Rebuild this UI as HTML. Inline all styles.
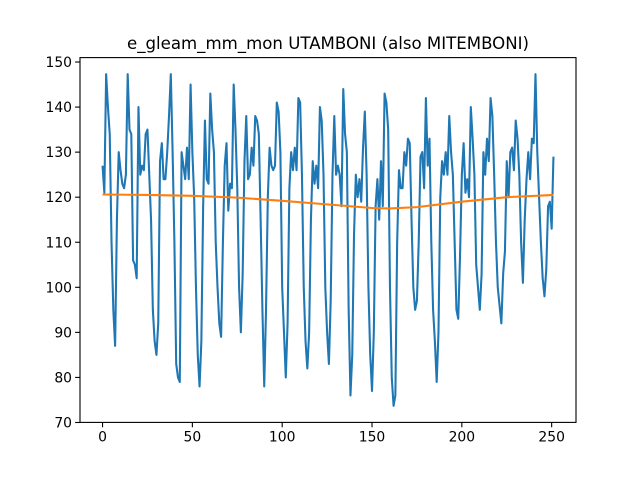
<!DOCTYPE html>
<html><head><meta charset="utf-8"><style>
body{margin:0;background:#fff}
svg{display:block;font-family:"DejaVu Sans","Liberation Sans",sans-serif}
</style></head><body>
<svg id="chart" width="640" height="480" xmlns="http://www.w3.org/2000/svg">
<rect width="640" height="480" fill="#fff"/>
<text x="328" y="49" text-anchor="middle" font-size="16.6" fill="#000">e_gleam_mm_mon UTAMBONI (also MITEMBONI)</text>
<g id="plot"></g>
</svg>
<script>
const seriesValues=[127,121,147.3,140,134,110,95,87,115,130,126,123,122,125,147.3,135,134,106,105,102,
140,125,127,126,134,135,125,115,95,88,85,92,128,132,124,124,130,138,147.3,130,110,83,80,79,
130,127,124,131,124,145,130,120,100,85,78,88,118,137,124,123,143,135,130,110,100,92,89,
110,127,132,117,123,122,145,135,122,100,90,103,128,138,124,125,131,127,138,137,134,115,95,78,
95,120,131,127,126,127,141,139,130,100,90,80,92,122,130,126,131,126,142,141,125,100,88,82,
90,115,128,123,127,122,140,137,125,100,90,83,97,125,138,125,127,125,118,144,134,130,95,76,
85,112,125,120,124,119,131,139,125,100,85,77,90,118,124,115,128,118,143,141,135,100,80,73.7,
76,110,126,122,122,130,127,133,132,115,100,95,97,110,129,130,122,142,127,133,110,95,88,79,
90,120,128,125,130,125,138,130,125,110,95,93,107,125,132,121,124,120,140,133,125,105,100,95,
103,130,125,133,128,142,138,125,110,100,96,92,103,108,128,120,130,131,126,137,133,125,110,101,
115,124,130,124,133,132,147.3,130,120,110,102,98,104,118,119,113,129];
const trendX=[0,25,50,75,100,125,150,160,175,200,225,251];
const trendY=[120.6,120.5,120.3,119.9,119.2,118.4,117.6,117.5,117.8,119.0,120.0,120.5];
const xTicks=[0,50,100,150,200,250];
const yTicks=[70,80,90,100,110,120,130,140,150];

const NS="http://www.w3.org/2000/svg";
const L=80,R=576,T=57.6,B=422.4;
const n=seriesValues.length;
const xmin=-(n-1)*0.05,xmax=(n-1)*1.05;
const dmin=Math.min(...seriesValues),dmax=Math.max(...seriesValues);
const ymin=dmin-(dmax-dmin)*0.05,ymax=dmax+(dmax-dmin)*0.05;
const sx=v=>L+(v-xmin)/(xmax-xmin)*(R-L);
const sy=v=>B-(v-ymin)/(ymax-ymin)*(B-T);
const plot=document.getElementById('plot');
function mk(tag,attrs){const e=document.createElementNS(NS,tag);for(const k in attrs)e.setAttribute(k,attrs[k]);plot.appendChild(e);return e;}

let d=seriesValues.map((v,i)=>(i?'L':'M')+sx(i).toFixed(2)+','+sy(v).toFixed(2)).join('');
const line=mk('path',{d:d,fill:'none',stroke:'#1f77b4','stroke-width':2.08,'stroke-linejoin':'round'});


let d2=trendX.map((x,i)=>(i?'L':'M')+sx(x).toFixed(2)+','+sy(trendY[i]).toFixed(2)).join('');
const tl=mk('path',{d:d2,fill:'none',stroke:'#ff7f0e','stroke-width':2.08});



const frame=mk('rect',{x:L,y:T,width:R-L,height:B-T,fill:'none',stroke:'#000','stroke-width':1.1});



xTicks.forEach(t=>{const x=sx(t);
const tk=mk('line',{x1:x,x2:x,y1:B,y2:B+4.9,stroke:'#000','stroke-width':1.1});


const tx=mk('text',{x:x,y:B+19,'text-anchor':'middle','font-size':13.9,fill:'#000'});tx.textContent=t;

});
yTicks.forEach(t=>{const y=sy(t);
const tk=mk('line',{x1:L-4.9,x2:L,y1:y,y2:y,stroke:'#000','stroke-width':1.1});


const tx=mk('text',{x:L-8,y:y+5,'text-anchor':'end','font-size':13.9,fill:'#000'});tx.textContent=t;

});
</script>
</body></html>
